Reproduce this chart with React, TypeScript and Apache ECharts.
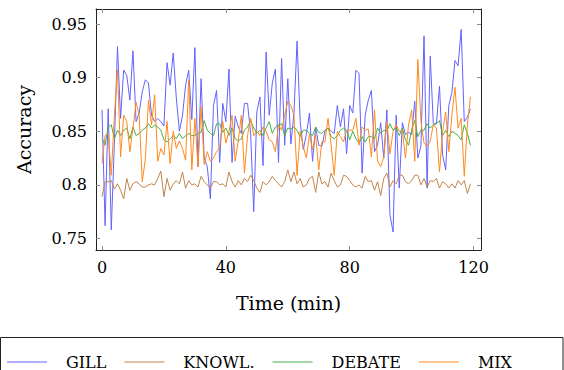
import React, { useEffect, useRef } from "react";
import * as echarts from "echarts";

const seriesNames = ["GILL", "KNOWL.", "DEBATE", "MIX"];
const seriesColors = ["#6363ff", "#c2844c", "#48ae48", "#ff8a1c"];

const xTicks = [0, 40, 80, 120];
const yTicks = [0.75, 0.8, 0.85, 0.9, 0.95];

const gill = [
  0.870, 0.762, 0.871, 0.758, 0.840, 0.929, 0.862, 0.907, 0.902, 0.879, 0.925, 0.859, 0.867, 0.887, 0.898, 0.895, 0.865, 0.859, 0.862, 0.859,
  0.855, 0.914, 0.893, 0.923, 0.881, 0.850, 0.865, 0.893, 0.907, 0.861, 0.928, 0.817, 0.899, 0.825, 0.817, 0.787, 0.874, 0.888, 0.821, 0.876,
  0.859, 0.908, 0.821, 0.864, 0.854, 0.848, 0.876, 0.876, 0.848, 0.775, 0.868, 0.882, 0.818, 0.924, 0.865, 0.895, 0.908, 0.821, 0.918, 0.837,
  0.899, 0.838, 0.867, 0.934, 0.859, 0.833, 0.847, 0.867, 0.822, 0.854, 0.837, 0.836, 0.850, 0.853, 0.850, 0.848, 0.874, 0.854, 0.871, 0.829,
  0.874, 0.867, 0.907, 0.904, 0.811, 0.865, 0.879, 0.888, 0.831, 0.837, 0.858, 0.825, 0.870, 0.772, 0.756, 0.865, 0.797, 0.858, 0.847, 0.849,
  0.847, 0.878, 0.825, 0.836, 0.939, 0.797, 0.920, 0.857, 0.857, 0.892, 0.828, 0.814, 0.874, 0.886, 0.916, 0.911, 0.945, 0.859, 0.863, 0.871,
];

const knowl = [
  0.789, 0.803, 0.803, 0.804, 0.796, 0.801, 0.795, 0.787, 0.806, 0.795, 0.801, 0.803, 0.801, 0.798, 0.798, 0.800, 0.801, 0.800, 0.806, 0.813,
  0.789, 0.806, 0.795, 0.801, 0.804, 0.801, 0.812, 0.797, 0.804, 0.800, 0.801, 0.798, 0.808, 0.803, 0.800, 0.797, 0.803, 0.803, 0.800, 0.801,
  0.798, 0.812, 0.803, 0.798, 0.804, 0.800, 0.806, 0.803, 0.809, 0.804, 0.797, 0.793, 0.803, 0.800, 0.803, 0.808, 0.804, 0.801, 0.798, 0.803,
  0.814, 0.803, 0.812, 0.801, 0.806, 0.798, 0.800, 0.806, 0.808, 0.793, 0.812, 0.801, 0.803, 0.798, 0.811, 0.804, 0.798, 0.800, 0.809, 0.808,
  0.804, 0.800, 0.798, 0.800, 0.797, 0.808, 0.803, 0.804, 0.795, 0.803, 0.790, 0.806, 0.811, 0.798, 0.804, 0.801, 0.809, 0.809, 0.803, 0.801,
  0.804, 0.809, 0.809, 0.800, 0.806, 0.798, 0.804, 0.803, 0.806, 0.797, 0.803, 0.801, 0.797, 0.801, 0.797, 0.804, 0.800, 0.804, 0.792, 0.801,
];

const debate = [
  0.843, 0.837, 0.854, 0.856, 0.843, 0.851, 0.846, 0.851, 0.853, 0.843, 0.854, 0.846, 0.848, 0.851, 0.853, 0.857, 0.853, 0.856, 0.854, 0.851,
  0.842, 0.840, 0.843, 0.846, 0.843, 0.848, 0.843, 0.846, 0.848, 0.846, 0.846, 0.848, 0.849, 0.860, 0.851, 0.848, 0.846, 0.857, 0.857, 0.849,
  0.853, 0.846, 0.853, 0.843, 0.841, 0.843, 0.851, 0.854, 0.860, 0.853, 0.848, 0.851, 0.846, 0.853, 0.859, 0.848, 0.854, 0.856, 0.857, 0.846,
  0.853, 0.852, 0.854, 0.851, 0.845, 0.851, 0.851, 0.848, 0.846, 0.854, 0.849, 0.848, 0.851, 0.853, 0.845, 0.843, 0.846, 0.851, 0.853, 0.851,
  0.842, 0.850, 0.843, 0.839, 0.845, 0.840, 0.845, 0.845, 0.843, 0.853, 0.848, 0.851, 0.850, 0.857, 0.851, 0.853, 0.846, 0.853, 0.842, 0.837,
  0.851, 0.860, 0.845, 0.851, 0.851, 0.857, 0.853, 0.856, 0.857, 0.860, 0.846, 0.851, 0.845, 0.850, 0.848, 0.846, 0.842, 0.856, 0.848, 0.837,
];

const mix = [
  0.820, 0.846, 0.848, 0.809, 0.865, 0.907, 0.826, 0.865, 0.859, 0.831, 0.853, 0.877, 0.865, 0.803, 0.824, 0.879, 0.856, 0.884, 0.822, 0.834,
  0.828, 0.859, 0.820, 0.850, 0.834, 0.841, 0.834, 0.823, 0.898, 0.814, 0.862, 0.817, 0.873, 0.819, 0.831, 0.822, 0.825, 0.831, 0.834, 0.859,
  0.839, 0.850, 0.865, 0.822, 0.841, 0.865, 0.811, 0.846, 0.862, 0.846, 0.850, 0.846, 0.854, 0.850, 0.842, 0.840, 0.831, 0.856, 0.851, 0.865,
  0.878, 0.874, 0.865, 0.809, 0.850, 0.836, 0.825, 0.847, 0.833, 0.847, 0.814, 0.840, 0.840, 0.862, 0.837, 0.809, 0.850, 0.845, 0.840, 0.851,
  0.851, 0.851, 0.862, 0.837, 0.854, 0.851, 0.852, 0.826, 0.870, 0.822, 0.817, 0.826, 0.859, 0.829, 0.850, 0.856, 0.850, 0.851, 0.825, 0.856,
  0.870, 0.822, 0.917, 0.859, 0.839, 0.836, 0.841, 0.856, 0.853, 0.812, 0.850, 0.868, 0.831, 0.865, 0.891, 0.853, 0.862, 0.808, 0.856, 0.882,
];

const allSeries = [gill, knowl, debate, mix];

const FONT = "DejaVu Serif";

export default function App() {
  const ref = useRef<HTMLDivElement>(null);
  useEffect(() => {
    if (!ref.current) return;
    const chart = echarts.init(ref.current, null, { renderer: "svg" });
    const tickStyle = { show: true, inside: true, length: 4, lineStyle: { color: "#8a8a8a", width: 1 } };
    const xBase = {
      type: "value" as const,
      min: -1.94,
      max: 122.4,
      splitLine: { show: false },
      axisLine: { show: true, onZero: false, lineStyle: { color: "#222", width: 1 } },
    };
    const yBase = {
      type: "value" as const,
      min: 0.7393,
      max: 0.964,
      splitLine: { show: false },
      axisLine: { show: true, onZero: false, lineStyle: { color: "#222", width: 1 } },
    };
    chart.setOption({
      animation: false,
      textStyle: { fontFamily: FONT, color: "#000" },
      grid: { left: 96, right: 83, top: 9, bottom: 120, containLabel: false },
      xAxis: [
        {
          ...xBase,
          position: "bottom",
          name: "Time (min)",
          nameLocation: "middle",
          nameGap: 43,
          nameTextStyle: { fontFamily: FONT, fontSize: 19, color: "#000" },
          axisTick: { ...tickStyle, customValues: xTicks },
          axisLabel: { show: true, customValues: xTicks, margin: 9, fontFamily: FONT, fontSize: 16, color: "#000" },
        },
        {
          ...xBase,
          position: "top",
          axisTick: { ...tickStyle, customValues: xTicks },
          axisLabel: { show: false },
        },
      ],
      yAxis: [
        {
          ...yBase,
          position: "left",
          name: "Accuracy",
          nameLocation: "middle",
          nameGap: 63,
          nameRotate: 90,
          nameTextStyle: { fontFamily: FONT, fontSize: 19, color: "#000" },
          axisTick: { ...tickStyle, customValues: yTicks },
          axisLabel: { show: true, customValues: yTicks, margin: 9, fontFamily: FONT, fontSize: 16, color: "#000" },
        },
        {
          ...yBase,
          position: "right",
          axisTick: { ...tickStyle, customValues: yTicks },
          axisLabel: { show: false },
        },
      ],
      legend: {
        left: 7,
        top: 354,
        padding: 0,
        itemGap: 18,
        itemWidth: 40,
        itemHeight: 1.2,
        icon: "rect",
        textStyle: { fontFamily: FONT, fontSize: 16, color: "#000", padding: [0, 0, 0, 14] },
        data: seriesNames,
      },
      graphic: [
        {
          type: "rect",
          silent: true,
          shape: { x: 0.5, y: 337.5, width: 562.5, height: 60 },
          style: { fill: "none", stroke: "#222", lineWidth: 1 },
        },
      ],
      series: allSeries.map((vals, si) => ({
        type: "line",
        name: seriesNames[si],
        data: vals.map((v, i) => [i, v]),
        showSymbol: false,
        symbol: "none",
        lineStyle: { color: seriesColors[si], width: 1 },
        itemStyle: { color: seriesColors[si] },
        z: 2 + si,
      })),
    });
    return () => chart.dispose();
  }, []);
  return <div ref={ref} style={{ position: "absolute", left: 0, top: 0, width: 564, height: 370 }} />;
}
